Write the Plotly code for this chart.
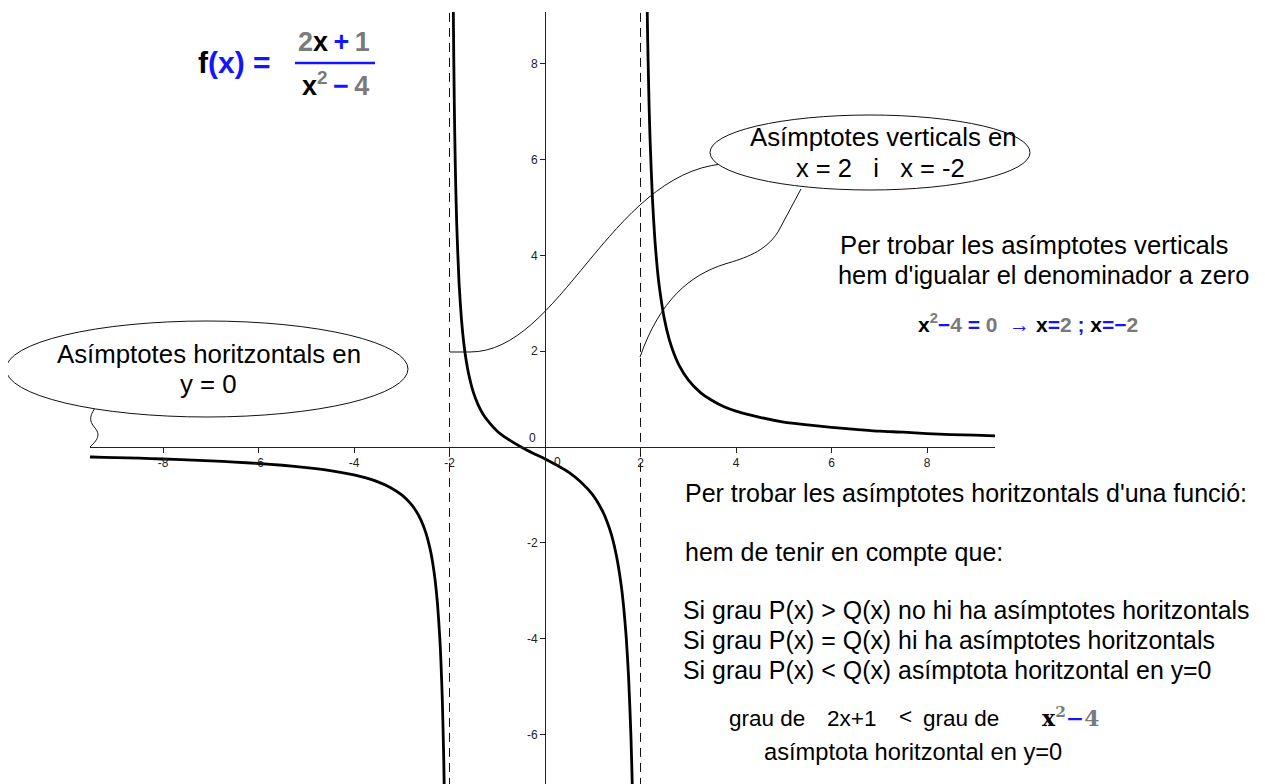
import plotly.graph_objects as go

# ---------------- data ----------------
# f(x) = (2x+1)/(x^2-4), three branches separated by the vertical asymptotes
x_left = [-9.6, -9.5, -9.0, -8.5, -8.0, -7.5, -7.0, -6.5, -6.0, -5.5, -5.0, -4.5, -4.0,
          -3.75, -3.5, -3.25, -3.0, -2.8, -2.7, -2.6, -2.5, -2.4, -2.35, -2.3, -2.25,
          -2.2, -2.18, -2.15, -2.12, -2.1]
y_left = [-0.206, -0.209, -0.221, -0.234, -0.250, -0.268, -0.289, -0.314, -0.344, -0.381,
          -0.429, -0.492, -0.583, -0.646, -0.727, -0.838, -1.000, -1.198, -1.337, -1.522,
          -1.778, -2.159, -2.430, -2.791, -3.294, -4.048, -4.466, -5.301, -6.553, -7.805]

x_mid = [-1.93, -1.92, -1.9, -1.88, -1.85, -1.8, -1.75, -1.7, -1.65, -1.6, -1.5, -1.4,
         -1.3, -1.2, -1.0, -0.8, -0.5, -0.25, 0.0, 0.25, 0.5, 0.75, 1.0, 1.2, 1.3, 1.4,
         1.5, 1.6, 1.65, 1.7, 1.75, 1.8, 1.83, 1.85]
y_mid = [10.40, 9.06, 7.18, 5.93, 4.68, 3.42, 2.67, 2.16, 1.80, 1.53, 1.14, 0.88,
         0.69, 0.55, 0.33, 0.18, 0.0, -0.13, -0.25, -0.38, -0.53, -0.73, -1.0, -1.33,
         -1.56, -1.86, -2.29, -2.92, -3.37, -3.96, -4.80, -6.05, -7.16, -8.14]

x_right = [2.13, 2.15, 2.18, 2.2, 2.25, 2.3, 2.35, 2.4, 2.5, 2.6, 2.7, 2.8, 3.0, 3.25,
           3.5, 3.75, 4.0, 4.5, 5.0, 5.5, 6.0, 6.5, 7.0, 7.5, 8.0, 8.5, 9.0, 9.5]
y_right = [9.80, 8.51, 7.12, 6.43, 5.18, 4.34, 3.74, 3.30, 2.67, 2.25, 1.95, 1.72, 1.40,
           1.14, 0.97, 0.84, 0.75, 0.62, 0.52, 0.46, 0.41, 0.37, 0.33, 0.31, 0.28, 0.26,
           0.25, 0.23]

asymptote_x = [-2, 2]

xtick_vals = [-8, -6, -4, -2, 2, 4, 6, 8]
xtick_text = ["-8", "-6", "-4", "-2", "2", "4", "6", "8"]
ytick_vals = [-6, -4, -2, 2, 4, 6, 8]
ytick_text = ["-6", "-4", "-2", "2", "4", "6", "8"]

X_RANGE = [-9.529, 9.424]
Y_RANGE = [-7.035, 9.081]

# ---------------- layout helpers (target-page pixels -> paper) ----------------
PAGE_OFF = 8                      # default body margin of the html page
W, H = 1265 - PAGE_OFF, 784 - PAGE_OFF
ML, MT = 90 - PAGE_OFF, 12 - PAGE_OFF
PW = 905
PH = H - MT
MR, MB = W - ML - PW, 0


def px(x):
    return (x - PAGE_OFF - ML) / PW


def py(y):
    return (H - MB - (y - PAGE_OFF)) / PH


def path(cmds):
    out = []
    for c in cmds:
        if isinstance(c, str):
            out.append(c)
        else:
            out.append(f"{px(c[0]):.5f},{py(c[1]):.5f}")
    return " ".join(out)


BLUE = "#1414ff"
GRAY = "#7a7a7a"
FONT = "Liberation Sans, Arial, sans-serif"

fig = go.Figure()

for xa in asymptote_x:
    fig.add_trace(go.Scatter(x=[xa, xa], y=[Y_RANGE[0] - 1, Y_RANGE[1] + 1], mode="lines",
                             line=dict(color="#111", width=1, dash="9px,6px"),
                             hoverinfo="skip"))

for xs, ys in [(x_left, y_left), (x_mid, y_mid), (x_right, y_right)]:
    fig.add_trace(go.Scatter(x=xs, y=ys, mode="lines",
                             line=dict(color="black", width=2.8, shape="spline", smoothing=0.6),
                             hoverinfo="skip"))

x_pos = (0 - Y_RANGE[0]) / (Y_RANGE[1] - Y_RANGE[0])
y_pos = (0 - X_RANGE[0]) / (X_RANGE[1] - X_RANGE[0])

axis_common = dict(showgrid=False, zeroline=False, showline=True, linecolor="#222",
                   linewidth=1, ticks="outside", ticklen=5, tickcolor="#222",
                   tickfont=dict(family=FONT, size=12, color="#222"), fixedrange=True)

fig.update_layout(
    width=W, height=H, autosize=False,
    margin=dict(l=ML, r=MR, t=MT, b=MB, pad=0),
    paper_bgcolor="white", plot_bgcolor="white", showlegend=False,
    xaxis=dict(range=X_RANGE, anchor="free", position=x_pos, tickmode="array",
               tickvals=xtick_vals, ticktext=xtick_text, **axis_common),
    yaxis=dict(range=Y_RANGE, anchor="free", position=y_pos, tickmode="array",
               tickvals=ytick_vals, ticktext=ytick_text, **axis_common),
    font=dict(family=FONT, color="black"),
)

# the two "0" labels near the origin
fig.add_annotation(x=0, y=0, xref="x", yref="y", text="0", showarrow=False,
                   xshift=12, yshift=-15, font=dict(family=FONT, size=12, color="#222"))
fig.add_annotation(x=0, y=0, xref="x", yref="y", text="0", showarrow=False,
                   xshift=-13, yshift=9, font=dict(family=FONT, size=12, color="#222"))

# ---------------- callout tails ----------------
tail_style = dict(type="path", xref="paper", yref="paper", line=dict(color="#111", width=1),
                  layer="above")
fig.add_shape(path=path(["M", (450, 352), "L", (470, 352), "C", (560, 352), (610, 175),
                         (722, 164)]), **tail_style)
fig.add_shape(path=path(["M", (801, 189), "L", (778, 232), "C", (765, 252), (745, 258),
                         (725, 264), "C", (690, 275), (660, 300), (640, 357)]), **tail_style)
fig.add_shape(path=path(["M", (97, 405), "C", (90, 415), (88, 420), (95, 428), "C",
                         (102, 436), (95, 442), (90, 447)]), **tail_style)

# ---------------- ellipses ----------------
for (x0, y0, x1, y1) in [(6, 321, 408, 417), (710, 115, 1030, 190)]:
    fig.add_shape(type="circle", xref="paper", yref="paper", x0=px(x0), x1=px(x1),
                  y0=py(y1), y1=py(y0), line=dict(color="#111", width=1),
                  fillcolor="white", layer="above")


def note(x, y, text, size=24, xanchor="left", color="black", family=FONT):
    fig.add_annotation(x=px(x), y=py(y), xref="paper", yref="paper", text=text,
                       showarrow=False, xanchor=xanchor, yanchor="middle", align="left",
                       font=dict(family=family, size=size, color=color))


note(209, 354, "Asímptotes horitzontals en", size=25.8, xanchor="center")
note(208, 384, "y = 0", size=25.8, xanchor="center")
note(883, 137, "Asímptotes verticals en", size=25.8, xanchor="center")
note(880, 168, "x = 2&nbsp;&nbsp; i &nbsp;&nbsp;x = -2", size=25.5, xanchor="center")

note(838, 245, "Per trobar les asímptotes verticals", size=25.7)
note(836, 275, "hem d'igualar el denominador a zero", size=25.4)

note(916, 323, f"<b>x<sup><span style='color:{GRAY}'>2</span></sup>"
               f"<span style='color:{BLUE}'>−</span><span style='color:{GRAY}'>4</span>"
               f"<span style='color:{BLUE}'> = </span><span style='color:{GRAY}'>0</span>"
               f"<span style='color:{BLUE}'>&nbsp; → </span>x<span style='color:{BLUE}'>=</span>"
               f"<span style='color:{GRAY}'>2</span><span style='color:{BLUE}'> ; </span>x"
               f"<span style='color:{BLUE}'>=−</span><span style='color:{GRAY}'>2</span></b>",
     size=21)

note(683, 493, "Per trobar les asímptotes horitzontals d'una funció:", size=25.0)
note(683, 552, "hem de tenir en compte que:", size=25.0)
note(681, 610, "Si grau P(x) > Q(x) no hi ha asímptotes horitzontals", size=24.9)
note(681, 640, "Si grau P(x) = Q(x) hi ha asímptotes horitzontals", size=24.9)
note(681, 670, "Si grau P(x) < Q(x) asímptota horitzontal en y=0", size=24.9)

note(727, 718, "grau de", size=22.5)
note(825, 718, "2x+1", size=22.5)
note(897, 716, "&lt;", size=22.5)
note(921, 718, "grau de", size=22.5)
note(1040, 717, f"<b>x<sup><span style='color:{GRAY}'>2</span></sup>"
                f"<span style='color:{BLUE}'>−</span><span style='color:{GRAY}'>4</span></b>",
     size=22, family="DejaVu Serif, serif")
note(762, 752, "asímptota horitzontal en y=0", size=23.7)

# ---------------- formula f(x) ----------------
note(196, 62, f"<b>f<span style='color:{BLUE}'>(x)</span>&nbsp;<span style='color:{BLUE}'>=</span></b>",
     size=30)
note(334, 42, f"<b><span style='color:{GRAY}'>2</span>x<span style='color:{BLUE}'>&#8201;+&#8201;</span>"
              f"<span style='color:{GRAY}'>1</span></b>", size=27, xanchor="center")
note(335, 84, f"<b>x<sup><span style='color:{GRAY}'>2</span></sup>"
              f"<span style='color:{BLUE}'>&#8201;−&#8201;</span><span style='color:{GRAY}'>4</span></b>",
     size=27, xanchor="center")
fig.add_shape(type="line", xref="paper", yref="paper", x0=px(295), x1=px(375),
              y0=py(63), y1=py(63), line=dict(color=BLUE, width=2.5))

fig.write_html("out.html")
